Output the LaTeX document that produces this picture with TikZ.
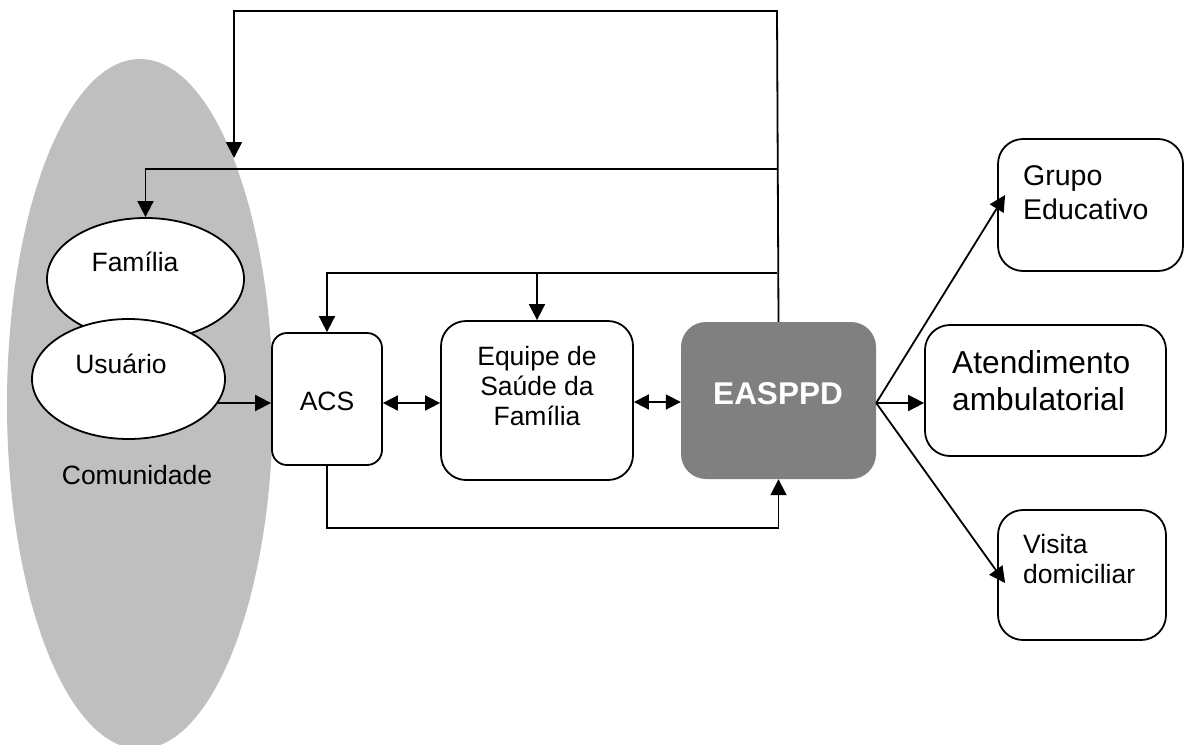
\documentclass[tikz,border=0pt]{standalone}
\usepackage{fontspec}
\setmainfont{Liberation Sans}
\usetikzlibrary{shapes.geometric,arrows.meta}
\tikzset{
  ln/.style={line width=1.8pt},
  arr/.style={ln,-{Triangle[length=16pt,width=16pt]}},
  darr/.style={ln,{Triangle[length=15pt,width=15pt]}-{Triangle[length=15pt,width=15pt]}},
  rbox/.style={draw,line width=1.8pt,fill=white,rounded corners=#1,inner sep=0pt},
  oval/.style={ellipse,draw,line width=1.8pt,fill=white,inner sep=0pt},
  txt/.style={font=\fontsize{26.5}{30}\selectfont,inner sep=0pt},
}
\begin{document}
\begin{tikzpicture}[x=1pt,y=-1pt]
\useasboundingbox (0,0) rectangle (1185,744);
% community
\node[ellipse,fill=gray!50,minimum width=266pt,minimum height=690pt,inner sep=0pt] (com) at (140,404) {};
\node[txt] (comT) at (137,475) {Comunidade};
\node[oval,minimum width=197pt,minimum height=122pt] (fam) at (145.5,279) {};
\node[txt] (famT) at (135,262) {Família};
\node[oval,minimum width=193pt,minimum height=120pt] (usu) at (128.5,379) {};
\node[txt] (usuT) at (121,364) {Usuário};
% boxes
\node[rbox=15pt,minimum width=110pt,minimum height=132pt] (acs) at (327,399) {};
\node[txt] (acsT) at (327,401) {ACS};
\node[rbox=25pt,minimum width=192pt,minimum height=159pt] (eq) at (537,400.5) {};
\node[txt,align=center] (eqT) at (537,386) {Equipe de\\Saúde da\\Família};
\node[rounded corners=25pt,fill=gray,minimum width=195pt,minimum height=157pt,inner sep=0pt] (eas) at (778.5,400.5) {};
\node[font=\fontsize{31.5}{36}\selectfont\bfseries,text=white,inner sep=0pt] (easT) at (778,394) {EASPPD};
\node[rbox=25pt,minimum width=185pt,minimum height=132pt] (gru) at (1090.5,205) {};
\node[font=\fontsize{28.5}{34}\selectfont,align=left,anchor=west,inner sep=0pt] (gruT) at (1023,193) {Grupo\\Educativo};
\node[rbox=25pt,minimum width=241pt,minimum height=131pt] (ate) at (1045.5,390.5) {};
\node[font=\fontsize{31.7}{37}\selectfont,align=left,anchor=west,inner sep=0pt] (ateT) at (952,381) {Atendimento\\ambulatorial};
\node[rbox=25pt,minimum width=168pt,minimum height=130pt] (vis) at (1082,575) {};
\node[txt,align=left,anchor=west,inner sep=0pt] (visT) at (1023,559) {Visita\\domiciliar};
% connectors
\coordinate (t1) at (777,11);
\coordinate (t2) at (234,11);
\coordinate (comIn) at (234,158);
\coordinate (j1) at (777,169);
\coordinate (j2) at (777,273);
\coordinate (j3) at (537,273);
\coordinate (b1) at (327,528);
\draw[arr] (eas.north) -- (t1) -- (t2) -- (comIn);
\draw[arr] (j1) -| (fam.north);
\draw[arr] (j2) -| (acs.north);
\draw[arr] (j3) -- (eq.north);
\draw[arr] (usu.-15) -- (usu.-15 -| acs.west);
\draw[darr] ([yshift=-4pt]acs.east) -- ([yshift=-4pt]acs.east -| eq.west);
\draw[darr] ([yshift=-1.5pt]eq.east) -- ([yshift=-1.5pt]eq.east -| eas.west);
\draw[arr] (acs.south) -- (b1) -| (eas.south);
\draw[arr] ([yshift=-2.5pt]eas.east) -- ([shift={(8,-10)}]gru.west);
\draw[arr] ([yshift=-2.5pt]eas.east) -- ([yshift=-2.5pt]eas.east -| ate.west);
\draw[arr] ([yshift=-2.5pt]eas.east) -- ([shift={(8,8)}]vis.west);
\end{tikzpicture}
\end{document}
